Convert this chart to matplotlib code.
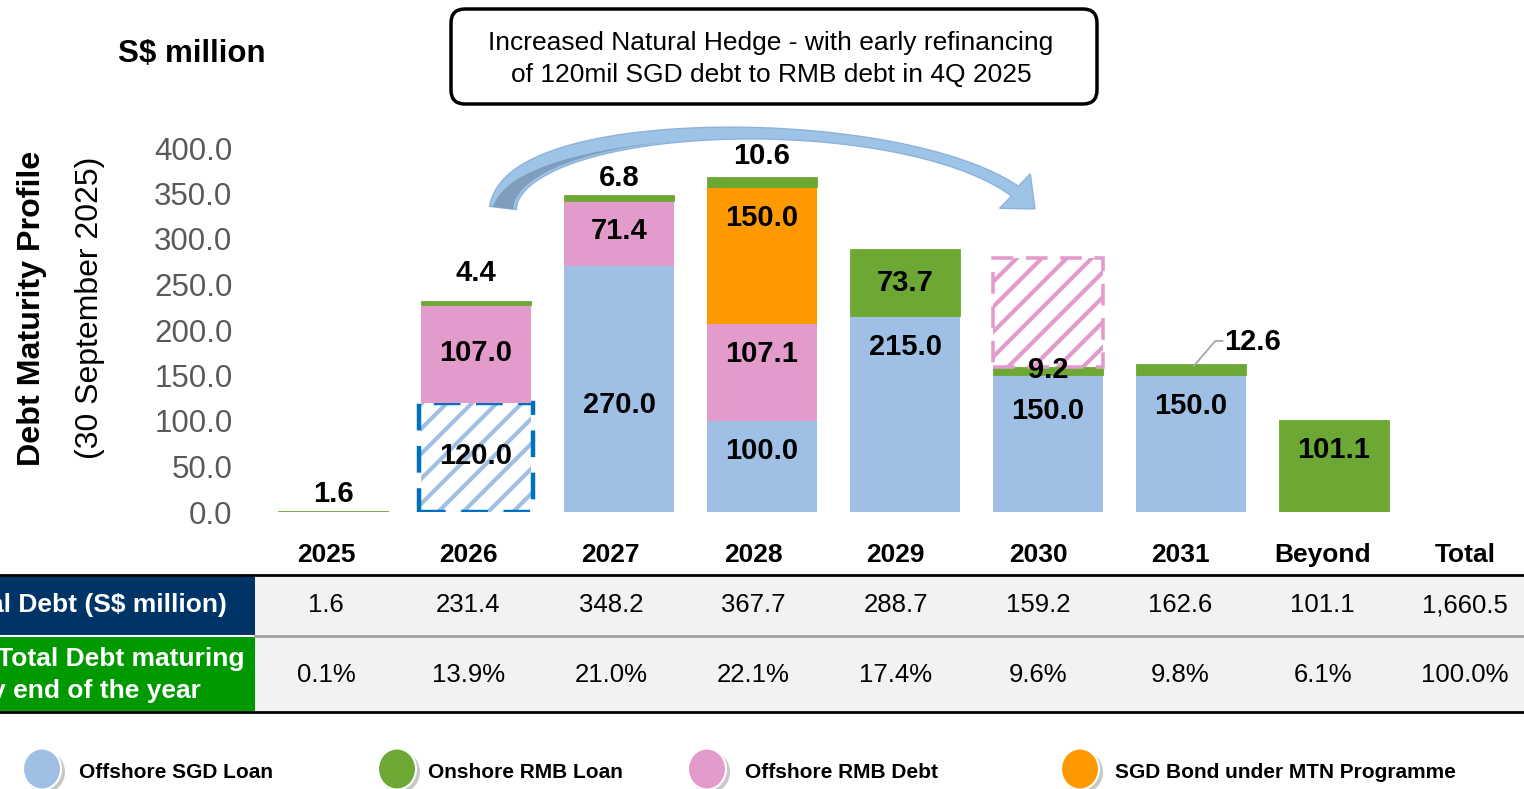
import matplotlib
matplotlib.use('Agg')
import matplotlib.pyplot as plt
from matplotlib.patches import Rectangle, FancyBboxPatch, Polygon, Ellipse
from matplotlib.transforms import IdentityTransform
from matplotlib.backend_bases import GraphicsContextBase
import numpy as np

plt.rcParams['font.family'] = ['Liberation Sans', 'DejaVu Sans']
plt.rcParams['hatch.linewidth'] = 3.0

# slightly denser hatch spacing (~12.5 px) than matplotlib's default
_orig_hatch_path = GraphicsContextBase.get_hatch_path
GraphicsContextBase.get_hatch_path = lambda self, density=8.0: _orig_hatch_path(self, 8.0)

# ---------------- data ----------------
categories = ['2025', '2026', '2027', '2028', '2029', '2030', '2031', 'Beyond']
offshore_sgd_loan = [0, 0, 270.0, 100.0, 215.0, 150.0, 150.0, 0]
refinanced_sgd_loan = [0, 120.0, 0, 0, 0, 0, 0, 0]          # hatched (to be refinanced)
offshore_rmb_debt = [0, 107.0, 71.4, 107.1, 0, 0, 0, 0]
sgd_bond_mtn = [0, 0, 0, 150.0, 0, 0, 0, 0]
onshore_rmb_loan = [1.6, 4.4, 6.8, 10.6, 73.7, 9.2, 12.6, 101.1]
new_rmb_debt = [0, 0, 0, 0, 0, 120.0, 0, 0]                # hatched (new RMB debt)

table_columns = categories + ['Total']
total_debt = ['1.6', '231.4', '348.2', '367.7', '288.7', '159.2', '162.6', '101.1', '1,660.5']
pct_maturing = ['0.1%', '13.9%', '21.0%', '22.1%', '17.4%', '9.6%', '9.8%', '6.1%', '100.0%']
yticks = [0, 50, 100, 150, 200, 250, 300, 350, 400]

# label vertical placements (value units) -- layout only
lab_sgd = [None, None, 117.6, 67.0, 181.3, 111.0, 116.5, None]
lab_refin = [None, 61.5, None, None, None, None, None, None]
lab_rmbdebt = [None, 174.7, 308.8, 173.6, None, None, None, None]
lab_bond = [None, None, None, 323.1, None, None, None, None]
lab_onshore = [19.8, 262.6, 367.0, 391.2, 251.6, 156.0, 186.8, 68.1]

C_SGD = '#9FC0E4'
C_ON = '#6CA833'
C_RMB = '#E39BCB'
C_BOND = '#FF9900'
C_DASHBLUE = '#0070C0'

W, H = 1524, 789
fig = plt.figure(figsize=(W / 100, H / 100), dpi=100)

def fx(px):
    return px / W

def fy(py):
    return 1 - py / H

# axes: y=0 at px 512, y=400 at px 148; x=0 at px 333, step 143 px
X0, STEP = 333, 143
ax_left, ax_right = 270, 1524
ax = fig.add_axes([fx(ax_left), fy(512), (ax_right - ax_left) / W, (512 - 148) / H])
ax.set_xlim((ax_left - X0) / STEP, (ax_right - X0) / STEP)
ax.set_ylim(0, 400)
for s in ax.spines.values():
    s.set_visible(False)
ax.set_xticks([])
ax.set_yticks(yticks)
ax.set_yticklabels([f'{v:.1f}' for v in yticks])
ax.tick_params(axis='y', length=0, pad=27, labelsize=22.5, labelcolor='#595959')
ax.patch.set_alpha(0)

x = np.arange(len(categories))
bw = 0.77
a_sgd = np.array(offshore_sgd_loan)
a_ref = np.array(refinanced_sgd_loan)
a_rmb = np.array(offshore_rmb_debt)
a_bond = np.array(sgd_bond_mtn)
a_on = np.array(onshore_rmb_loan)
a_new = np.array(new_rmb_debt)

def bar(vals, bottom=None, width=bw, **kw):
    bottom = np.zeros(len(vals)) if bottom is None else bottom
    m = vals > 0
    return ax.bar(x[m], vals[m], width, bottom=bottom[m], **kw)

bar(a_sgd, color=C_SGD, linewidth=0)
bar(a_ref, facecolor='white', edgecolor=C_SGD, hatch='/', linewidth=0)
bar(a_ref, width=bw * 1.03, facecolor='none', edgecolor=C_DASHBLUE, linewidth=3.2,
    linestyle=(0, (6, 3.5)))
base1 = a_sgd + a_ref
bar(a_rmb, bottom=base1, color=C_RMB, linewidth=0)
base2 = base1 + a_rmb
bar(a_bond, bottom=base2, color=C_BOND, linewidth=0)
base3 = base2 + a_bond
bar(a_on, bottom=base3, facecolor=C_ON, edgecolor=C_ON, linewidth=0.6)
base4 = base3 + a_on
bar(a_new, bottom=base4, facecolor='white', edgecolor=C_RMB, hatch='/', linewidth=0)
bar(a_new, bottom=base4, facecolor='none', edgecolor=C_RMB, linewidth=2.6,
    linestyle=(0, (6, 3.5)))

lab_kw = dict(ha='center', va='center', fontsize=21, fontweight='bold', color='black', clip_on=False)
for vals, ys in [(a_sgd, lab_sgd), (a_ref, lab_refin), (a_rmb, lab_rmbdebt), (a_bond, lab_bond)]:
    for i, (v, yy) in enumerate(zip(vals, ys)):
        if v > 0 and yy is not None:
            ax.text(x[i], yy, f'{v:.1f}', **lab_kw)
for i, (v, yy) in enumerate(zip(a_on, lab_onshore)):
    if categories[i] == '2031':
        ax.text(x[i] + 0.43, yy, f'{v:.1f}', **lab_kw)
        ax.plot([x[i] + 0.02, x[i] + 0.17, x[i] + 0.22], [base3[i] + v - 2, 188, 188],
                color='#A6A6A6', lw=1.3, clip_on=False)
    else:
        ax.text(x[i], yy, f'{v:.1f}', **lab_kw)

# ---------------- table ----------------
col_px = [326 + 142.4 * i for i in range(len(table_columns))]
for px, c in zip(col_px, table_columns):
    fig.text(fx(px), fy(555), c, fontsize=19, fontweight='bold', ha='center', va='center')

fig.add_artist(Rectangle((fx(255), fy(711)), fx(W - 255), (711 - 575) / H, transform=fig.transFigure,
                         facecolor='#F2F2F2', edgecolor='none'))
fig.add_artist(Rectangle((0, fy(635)), fx(255), (635 - 575) / H, transform=fig.transFigure,
                         facecolor='#003366', edgecolor='none'))
fig.add_artist(Rectangle((0, fy(711)), fx(255), (711 - 637) / H, transform=fig.transFigure,
                         facecolor='#009900', edgecolor='none'))
fig.add_artist(plt.Line2D([0, 1], [fy(574.5), fy(574.5)], transform=fig.transFigure, color='black', lw=2))
fig.add_artist(plt.Line2D([fx(255), 1], [fy(636), fy(636)], transform=fig.transFigure, color='#A0A0A0', lw=2))
fig.add_artist(plt.Line2D([0, 1], [fy(712), fy(712)], transform=fig.transFigure, color='black', lw=2))

fig.text(fx(227), fy(605), 'Total Debt (S$ million)', ha='right', va='center', color='white',
         fontsize=19, fontweight='bold')
fig.text(fx(244), fy(659), '% of Total Debt maturing', ha='right', va='center', color='white',
         fontsize=19, fontweight='bold')
fig.text(fx(201), fy(691), 'by end of the year', ha='right', va='center', color='white',
         fontsize=19, fontweight='bold')
for px, t1, t2 in zip(col_px, total_debt, pct_maturing):
    fig.text(fx(px), fy(605), t1, fontsize=18.5, ha='center', va='center')
    fig.text(fx(px), fy(675), t2, fontsize=18.5, ha='center', va='center')

# ---------------- titles ----------------
fig.text(fx(118), fy(54), 'S$ million', ha='left', va='center', fontsize=22.5, fontweight='bold')
fig.text(fx(32), fy(308), 'Debt Maturity Profile', rotation=90, ha='center', va='center',
         fontsize=23.2, fontweight='bold')
fig.text(fx(90), fy(308), '(30 September 2025)', rotation=90, ha='center', va='center', fontsize=23)

# callout box
box = FancyBboxPatch((451, H - 104), 646, 95, boxstyle='round,pad=0,rounding_size=14',
                     transform=IdentityTransform(), facecolor='white', edgecolor='black', linewidth=2.5)
fig.add_artist(box)
fig.text(fx(771), fy(43), 'Increased Natural Hedge - with early refinancing', ha='center', va='center', fontsize=19)
fig.text(fx(771), fy(75), 'of 120mil SGD debt to RMB debt in 4Q 2025', ha='center', va='center', fontsize=19)

# curved block arrow (cubic Bezier centre line, pixel coords, y up)
P = np.array([[503, H - 208], [515, H - 108], [950, H - 108], [1035, H - 209]], dtype=float)

def bez(t):
    t = np.asarray(t)[:, None]
    return ((1 - t) ** 3) * P[0] + 3 * ((1 - t) ** 2) * t * P[1] + 3 * (1 - t) * t ** 2 * P[2] + t ** 3 * P[3]

def dbez(t):
    t = np.asarray(t)[:, None]
    return 3 * (1 - t) ** 2 * (P[1] - P[0]) + 6 * (1 - t) * t * (P[2] - P[1]) + 3 * t ** 2 * (P[3] - P[2])

head_len, head_w = 27.0, 46.0
tt = np.linspace(0, 1, 2000)
dist = np.linalg.norm(bez(tt) - P[3], axis=1)
t_h = tt[np.argmax(dist < head_len)]
t = np.linspace(0, t_h, 300)
c = bez(t)
d = dbez(t)
n = np.column_stack([-d[:, 1], d[:, 0]]) / np.linalg.norm(d, axis=1)[:, None]
s = t / t_h
w = 7 + 20 * (1 - s) ** 2 + 5 * s ** 4
outer = c + n * (w / 2)[:, None]
inner = c - n * (w / 2)[:, None]
hb = c[-1]
hd = (P[3] - hb) / np.linalg.norm(P[3] - hb)
hn = np.array([-hd[1], hd[0]])
poly = np.vstack([outer, [hb + hn * head_w / 2, P[3], hb - hn * head_w / 2], inner[::-1]])
fig.add_artist(Polygon(poly, closed=True, transform=IdentityTransform(), facecolor='#9DC3E6',
                       edgecolor='#8DB3DB', linewidth=1))
# darker shading on the rising part
k = s < 0.42
f0 = (0.12 + 0.0 * s[k])[:, None]
f1 = (0.88 - 0.5 * s[k] / 0.42)[:, None]
ff = (1 - s[k] / 0.42)[:, None]
lo = inner[k] + n[k] * w[k][:, None] * f0
hi = inner[k] + n[k] * w[k][:, None] * (f0 + (f1 - f0) * ff)
shade = np.vstack([lo, hi[::-1]])
fig.add_artist(Polygon(shade, closed=True, transform=IdentityTransform(), facecolor='#7E99B9',
                       edgecolor='none', alpha=0.9))

# ---------------- legend ----------------
legend_items = [('Offshore SGD Loan', C_SGD, 42, 79), ('Onshore RMB Loan', C_ON, 397, 428),
                ('Offshore RMB Debt', C_RMB, 707, 745), ('SGD Bond under MTN Programme', C_BOND, 1080, 1115)]
for lab, col, cx, tx_ in legend_items:
    fig.add_artist(Ellipse((cx + 3, H - 772), 40, 42, transform=IdentityTransform(), facecolor='#C8C8C8',
                           edgecolor='none'))
    fig.add_artist(Ellipse((cx, H - 769), 38, 41, transform=IdentityTransform(), facecolor=col,
                           edgecolor='white', linewidth=1.5))
    fig.text(fx(tx_), fy(773), lab, ha='left', va='center', fontsize=15, fontweight='bold')

fig.savefig('out.png', dpi=100)
